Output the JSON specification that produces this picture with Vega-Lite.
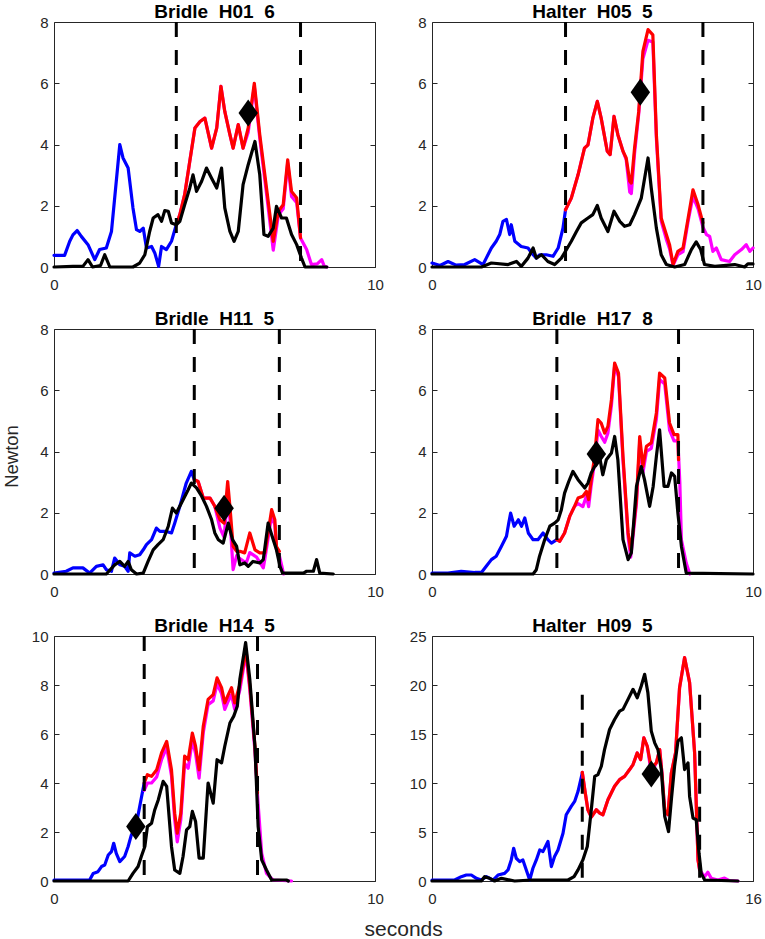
{
"$schema":"https://vega.github.io/schema/vega-lite/v6.json",
"padding":{"left":1,"top":2,"right":5,"bottom":4},
"bounds":"flush",
"columns":2,
"spacing":{"row":62,"column":57},
"title":{"text":"seconds","orient":"bottom","anchor":"middle","fontSize":21,"fontWeight":"normal","offset":12,"dx":22,"color":"#262626"},
"config":{
"font":"Liberation Sans",
"view":{"stroke":"#262626","strokeWidth":1},
"axis":{"grid":false,"domain":false,"tickColor":"#262626","tickSize":-5,"tickWidth":1,"labelFontSize":15,"labelColor":"#262626","labelFlush":false,"labelOverlap":false,"titleFontSize":18.5,"titleFontWeight":"normal","titleColor":"#262626"},
"axisBottom":{"labelPadding":15},
"axisLeft":{"labelPadding":11},
"title":{"fontSize":19,"fontWeight":"bold","anchor":"middle","offset":-7,"color":"#000000"},
"line":{"strokeWidth":3.2,"strokeJoin":"round","strokeCap":"round"}
},
"datasets":{
"ev":[{"p":1,"x":3.81,"y":8,"y2":0},{"p":1,"x":7.68,"y":8,"y2":0},{"p":2,"x":4.16,"y":8,"y2":0},{"p":2,"x":8.44,"y":8,"y2":0},{"p":3,"x":4.37,"y":8,"y2":0},{"p":3,"x":7.02,"y":8,"y2":0},{"p":4,"x":3.89,"y":8,"y2":0},{"p":4,"x":7.68,"y":8,"y2":0},{"p":5,"x":2.81,"y":10,"y2":0},{"p":5,"x":6.34,"y":10,"y2":0},{"p":6,"x":7.49,"y":19,"y2":0},{"p":6,"x":13.34,"y":19,"y2":0}],
"dm":[{"p":1,"x":6.05,"y":5.03},{"p":2,"x":6.49,"y":5.71},{"p":3,"x":5.3,"y":2.15},{"p":4,"x":5.12,"y":3.92},{"p":5,"x":2.55,"y":2.22},{"p":6,"x":10.93,"y":10.92}],
"d":[
{"p":1,"s":"b","x":0,"y":0.38},{"p":1,"s":"b","x":0.33,"y":0.38},{"p":1,"s":"b","x":0.49,"y":0.84},{"p":1,"s":"b","x":0.59,"y":1.05},{"p":1,"s":"b","x":0.72,"y":1.19},{"p":1,"s":"b","x":0.85,"y":1.0},{"p":1,"s":"b","x":1.06,"y":0.73},{"p":1,"s":"b","x":1.27,"y":0.24},{"p":1,"s":"b","x":1.42,"y":0.57},{"p":1,"s":"b","x":1.63,"y":0.62},{"p":1,"s":"b","x":1.79,"y":1.16},{"p":1,"s":"b","x":1.89,"y":2.25},{"p":1,"s":"b","x":2.05,"y":4.0},{"p":1,"s":"b","x":2.15,"y":3.56},{"p":1,"s":"b","x":2.31,"y":3.23},{"p":1,"s":"b","x":2.46,"y":1.93},{"p":1,"s":"b","x":2.57,"y":1.22},{"p":1,"s":"b","x":2.67,"y":1.16},{"p":1,"s":"b","x":2.78,"y":1.27},{"p":1,"s":"b","x":2.88,"y":0.62},{"p":1,"s":"b","x":3.04,"y":0.67},{"p":1,"s":"b","x":3.14,"y":0.46},{"p":1,"s":"b","x":3.26,"y":0.02},{"p":1,"s":"b","x":3.35,"y":0.67},{"p":1,"s":"b","x":3.5,"y":0.57},{"p":1,"s":"b","x":3.66,"y":0.84},{"p":1,"s":"b","x":3.81,"y":1.38},
{"p":1,"s":"r","x":3.81,"y":1.38},{"p":1,"s":"r","x":3.92,"y":1.71},{"p":1,"s":"r","x":4.07,"y":2.36},{"p":1,"s":"r","x":4.23,"y":3.45},{"p":1,"s":"r","x":4.39,"y":4.54},{"p":1,"s":"r","x":4.55,"y":4.75},{"p":1,"s":"r","x":4.7,"y":4.86},{"p":1,"s":"r","x":4.91,"y":3.88},{"p":1,"s":"r","x":5.07,"y":4.54},{"p":1,"s":"r","x":5.2,"y":5.9},{"p":1,"s":"r","x":5.32,"y":5.08},{"p":1,"s":"r","x":5.48,"y":4.32},{"p":1,"s":"r","x":5.58,"y":3.88},{"p":1,"s":"r","x":5.74,"y":4.65},{"p":1,"s":"r","x":5.89,"y":3.88},{"p":1,"s":"r","x":6.05,"y":4.54},{"p":1,"s":"r","x":6.24,"y":6.0},{"p":1,"s":"r","x":6.41,"y":4.32},{"p":1,"s":"r","x":6.62,"y":2.58},{"p":1,"s":"r","x":6.83,"y":0.84},{"p":1,"s":"r","x":6.99,"y":1.82},{"p":1,"s":"r","x":7.14,"y":2.03},{"p":1,"s":"r","x":7.28,"y":3.5},{"p":1,"s":"r","x":7.4,"y":2.47},{"p":1,"s":"r","x":7.56,"y":2.25},{"p":1,"s":"r","x":7.68,"y":0.95},
{"p":1,"s":"m","x":3.81,"y":1.38},{"p":1,"s":"m","x":3.92,"y":1.71},{"p":1,"s":"m","x":4.07,"y":2.36},{"p":1,"s":"m","x":4.23,"y":3.45},{"p":1,"s":"m","x":4.39,"y":4.54},{"p":1,"s":"m","x":4.55,"y":4.75},{"p":1,"s":"m","x":4.7,"y":4.86},{"p":1,"s":"m","x":4.91,"y":3.88},{"p":1,"s":"m","x":5.07,"y":4.54},{"p":1,"s":"m","x":5.2,"y":5.9},{"p":1,"s":"m","x":5.32,"y":5.08},{"p":1,"s":"m","x":5.48,"y":4.32},{"p":1,"s":"m","x":5.58,"y":3.88},{"p":1,"s":"m","x":5.74,"y":4.65},{"p":1,"s":"m","x":5.89,"y":3.88},{"p":1,"s":"m","x":6.05,"y":4.4},{"p":1,"s":"m","x":6.24,"y":5.9},{"p":1,"s":"m","x":6.41,"y":4.2},{"p":1,"s":"m","x":6.62,"y":2.4},{"p":1,"s":"m","x":6.83,"y":0.55},{"p":1,"s":"m","x":6.99,"y":1.7},{"p":1,"s":"m","x":7.14,"y":1.9},{"p":1,"s":"m","x":7.28,"y":3.4},{"p":1,"s":"m","x":7.4,"y":2.3},{"p":1,"s":"m","x":7.56,"y":2.1},{"p":1,"s":"m","x":7.68,"y":0.95},{"p":1,"s":"m","x":7.87,"y":0.57},{"p":1,"s":"m","x":8.02,"y":0.08},{"p":1,"s":"m","x":8.2,"y":0.1},{"p":1,"s":"m","x":8.34,"y":0.24},{"p":1,"s":"m","x":8.42,"y":0.02},{"p":1,"s":"m","x":8.5,"y":0},
{"p":1,"s":"k","x":0,"y":0},{"p":1,"s":"k","x":0.59,"y":0.02},{"p":1,"s":"k","x":0.9,"y":0.02},{"p":1,"s":"k","x":1.06,"y":0.24},{"p":1,"s":"k","x":1.2,"y":0},{"p":1,"s":"k","x":1.45,"y":0.05},{"p":1,"s":"k","x":1.58,"y":0.4},{"p":1,"s":"k","x":1.74,"y":0},{"p":1,"s":"k","x":2.46,"y":0},{"p":1,"s":"k","x":2.67,"y":0.13},{"p":1,"s":"k","x":2.83,"y":0.4},{"p":1,"s":"k","x":2.98,"y":1.16},{"p":1,"s":"k","x":3.09,"y":1.6},{"p":1,"s":"k","x":3.24,"y":1.71},{"p":1,"s":"k","x":3.35,"y":1.49},{"p":1,"s":"k","x":3.45,"y":1.84},{"p":1,"s":"k","x":3.56,"y":1.82},{"p":1,"s":"k","x":3.66,"y":1.44},{"p":1,"s":"k","x":3.81,"y":1.38},{"p":1,"s":"k","x":3.92,"y":1.49},{"p":1,"s":"k","x":4.07,"y":2.03},{"p":1,"s":"k","x":4.23,"y":2.58},{"p":1,"s":"k","x":4.33,"y":3.01},{"p":1,"s":"k","x":4.44,"y":2.47},{"p":1,"s":"k","x":4.6,"y":2.8},{"p":1,"s":"k","x":4.75,"y":3.23},{"p":1,"s":"k","x":4.91,"y":2.9},{"p":1,"s":"k","x":5.07,"y":2.58},{"p":1,"s":"k","x":5.22,"y":3.23},{"p":1,"s":"k","x":5.32,"y":1.93},{"p":1,"s":"k","x":5.48,"y":1.16},{"p":1,"s":"k","x":5.61,"y":0.84},{"p":1,"s":"k","x":5.74,"y":1.16},{"p":1,"s":"k","x":5.89,"y":2.69},{"p":1,"s":"k","x":6.05,"y":3.34},{"p":1,"s":"k","x":6.26,"y":4.1},{"p":1,"s":"k","x":6.41,"y":3.01},{"p":1,"s":"k","x":6.54,"y":1.06},{"p":1,"s":"k","x":6.67,"y":1.0},{"p":1,"s":"k","x":6.83,"y":1.27},{"p":1,"s":"k","x":6.93,"y":1.98},{"p":1,"s":"k","x":7.09,"y":1.6},{"p":1,"s":"k","x":7.24,"y":1.6},{"p":1,"s":"k","x":7.4,"y":1.06},{"p":1,"s":"k","x":7.56,"y":0.73},{"p":1,"s":"k","x":7.71,"y":0.29},{"p":1,"s":"k","x":7.82,"y":0},{"p":1,"s":"k","x":8.5,"y":0},
{"p":2,"s":"b","x":0,"y":0.13},{"p":2,"s":"b","x":0.25,"y":0.05},{"p":2,"s":"b","x":0.5,"y":0.18},{"p":2,"s":"b","x":0.75,"y":0.06},{"p":2,"s":"b","x":1.02,"y":0.08},{"p":2,"s":"b","x":1.33,"y":0.24},{"p":2,"s":"b","x":1.59,"y":0.08},{"p":2,"s":"b","x":1.69,"y":0.29},{"p":2,"s":"b","x":1.85,"y":0.62},{"p":2,"s":"b","x":2.0,"y":0.84},{"p":2,"s":"b","x":2.11,"y":1.06},{"p":2,"s":"b","x":2.21,"y":1.49},{"p":2,"s":"b","x":2.32,"y":1.55},{"p":2,"s":"b","x":2.42,"y":1.06},{"p":2,"s":"b","x":2.47,"y":1.38},{"p":2,"s":"b","x":2.58,"y":0.84},{"p":2,"s":"b","x":2.78,"y":0.67},{"p":2,"s":"b","x":2.99,"y":0.62},{"p":2,"s":"b","x":3.15,"y":0.4},{"p":2,"s":"b","x":3.25,"y":0.29},{"p":2,"s":"b","x":3.35,"y":0.4},{"p":2,"s":"b","x":3.56,"y":0.4},{"p":2,"s":"b","x":3.77,"y":0.35},{"p":2,"s":"b","x":3.93,"y":0.62},{"p":2,"s":"b","x":4.08,"y":1.27},{"p":2,"s":"b","x":4.16,"y":1.87},
{"p":2,"s":"r","x":4.16,"y":1.87},{"p":2,"s":"r","x":4.34,"y":2.25},{"p":2,"s":"r","x":4.55,"y":3.01},{"p":2,"s":"r","x":4.75,"y":3.88},{"p":2,"s":"r","x":4.86,"y":3.99},{"p":2,"s":"r","x":5.01,"y":4.86},{"p":2,"s":"r","x":5.15,"y":5.41},{"p":2,"s":"r","x":5.27,"y":4.86},{"p":2,"s":"r","x":5.46,"y":3.78},{"p":2,"s":"r","x":5.55,"y":3.67},{"p":2,"s":"r","x":5.67,"y":4.92},{"p":2,"s":"r","x":5.79,"y":4.32},{"p":2,"s":"r","x":5.95,"y":3.78},{"p":2,"s":"r","x":6.05,"y":3.56},{"p":2,"s":"r","x":6.16,"y":2.8},{"p":2,"s":"r","x":6.21,"y":2.74},{"p":2,"s":"r","x":6.31,"y":3.88},{"p":2,"s":"r","x":6.44,"y":5.08},{"p":2,"s":"r","x":6.57,"y":7.04},{"p":2,"s":"r","x":6.73,"y":7.75},{"p":2,"s":"r","x":6.88,"y":7.58},{"p":2,"s":"r","x":6.99,"y":4.32},{"p":2,"s":"r","x":7.14,"y":1.6},{"p":2,"s":"r","x":7.3,"y":1.06},{"p":2,"s":"r","x":7.4,"y":0.73},{"p":2,"s":"r","x":7.51,"y":0.08},{"p":2,"s":"r","x":7.66,"y":0.51},{"p":2,"s":"r","x":7.82,"y":0.62},{"p":2,"s":"r","x":7.98,"y":1.6},{"p":2,"s":"r","x":8.13,"y":2.52},{"p":2,"s":"r","x":8.29,"y":2.03},{"p":2,"s":"r","x":8.44,"y":1.44},
{"p":2,"s":"m","x":4.16,"y":1.87},{"p":2,"s":"m","x":4.34,"y":2.25},{"p":2,"s":"m","x":4.55,"y":3.01},{"p":2,"s":"m","x":4.75,"y":3.88},{"p":2,"s":"m","x":4.86,"y":3.99},{"p":2,"s":"m","x":5.01,"y":4.86},{"p":2,"s":"m","x":5.15,"y":5.41},{"p":2,"s":"m","x":5.27,"y":4.86},{"p":2,"s":"m","x":5.46,"y":3.78},{"p":2,"s":"m","x":5.55,"y":3.67},{"p":2,"s":"m","x":5.67,"y":4.92},{"p":2,"s":"m","x":5.79,"y":4.32},{"p":2,"s":"m","x":5.95,"y":3.78},{"p":2,"s":"m","x":6.05,"y":3.5},{"p":2,"s":"m","x":6.16,"y":2.45},{"p":2,"s":"m","x":6.21,"y":2.4},{"p":2,"s":"m","x":6.31,"y":3.7},{"p":2,"s":"m","x":6.44,"y":5.0},{"p":2,"s":"m","x":6.57,"y":6.8},{"p":2,"s":"m","x":6.73,"y":7.4},{"p":2,"s":"m","x":6.88,"y":7.35},{"p":2,"s":"m","x":6.99,"y":4.2},{"p":2,"s":"m","x":7.14,"y":1.5},{"p":2,"s":"m","x":7.3,"y":0.9},{"p":2,"s":"m","x":7.4,"y":0.6},{"p":2,"s":"m","x":7.51,"y":0.05},{"p":2,"s":"m","x":7.66,"y":0.4},{"p":2,"s":"m","x":7.82,"y":0.5},{"p":2,"s":"m","x":7.98,"y":1.5},{"p":2,"s":"m","x":8.13,"y":2.3},{"p":2,"s":"m","x":8.29,"y":1.9},{"p":2,"s":"m","x":8.44,"y":1.3},{"p":2,"s":"m","x":8.55,"y":1.06},{"p":2,"s":"m","x":8.65,"y":1.0},{"p":2,"s":"m","x":8.75,"y":0.51},{"p":2,"s":"m","x":8.86,"y":0.62},{"p":2,"s":"m","x":9.01,"y":0.24},{"p":2,"s":"m","x":9.27,"y":0.18},{"p":2,"s":"m","x":9.43,"y":0.4},{"p":2,"s":"m","x":9.64,"y":0.57},{"p":2,"s":"m","x":9.79,"y":0.73},{"p":2,"s":"m","x":9.9,"y":0.51},{"p":2,"s":"m","x":10,"y":0.62},
{"p":2,"s":"k","x":0,"y":0},{"p":2,"s":"k","x":1.54,"y":0},{"p":2,"s":"k","x":1.85,"y":0.13},{"p":2,"s":"k","x":2.37,"y":0.08},{"p":2,"s":"k","x":2.63,"y":0.18},{"p":2,"s":"k","x":2.78,"y":0.02},{"p":2,"s":"k","x":2.99,"y":0.29},{"p":2,"s":"k","x":3.15,"y":0.62},{"p":2,"s":"k","x":3.25,"y":0.29},{"p":2,"s":"k","x":3.41,"y":0.4},{"p":2,"s":"k","x":3.61,"y":0.18},{"p":2,"s":"k","x":3.82,"y":0.08},{"p":2,"s":"k","x":4.03,"y":0.29},{"p":2,"s":"k","x":4.19,"y":0.57},{"p":2,"s":"k","x":4.34,"y":0.84},{"p":2,"s":"k","x":4.5,"y":1.16},{"p":2,"s":"k","x":4.65,"y":1.44},{"p":2,"s":"k","x":4.86,"y":1.6},{"p":2,"s":"k","x":5.01,"y":1.71},{"p":2,"s":"k","x":5.15,"y":2.01},{"p":2,"s":"k","x":5.27,"y":1.6},{"p":2,"s":"k","x":5.48,"y":1.16},{"p":2,"s":"k","x":5.67,"y":1.82},{"p":2,"s":"k","x":5.85,"y":1.49},{"p":2,"s":"k","x":6.0,"y":1.33},{"p":2,"s":"k","x":6.16,"y":1.38},{"p":2,"s":"k","x":6.31,"y":1.71},{"p":2,"s":"k","x":6.52,"y":2.25},{"p":2,"s":"k","x":6.73,"y":3.56},{"p":2,"s":"k","x":6.83,"y":2.58},{"p":2,"s":"k","x":6.99,"y":1.27},{"p":2,"s":"k","x":7.14,"y":0.4},{"p":2,"s":"k","x":7.3,"y":0.08},{"p":2,"s":"k","x":7.56,"y":0},{"p":2,"s":"k","x":7.87,"y":0.08},{"p":2,"s":"k","x":8.08,"y":0.57},{"p":2,"s":"k","x":8.23,"y":0.82},{"p":2,"s":"k","x":8.37,"y":0.57},{"p":2,"s":"k","x":8.49,"y":0.08},{"p":2,"s":"k","x":8.81,"y":0.02},{"p":2,"s":"k","x":9.43,"y":0.08},{"p":2,"s":"k","x":9.74,"y":0},{"p":2,"s":"k","x":9.84,"y":0.1},{"p":2,"s":"k","x":10,"y":0.1},
{"p":3,"s":"b","x":0,"y":0.03},{"p":3,"s":"b","x":0.38,"y":0.09},{"p":3,"s":"b","x":0.59,"y":0.2},{"p":3,"s":"b","x":0.9,"y":0.2},{"p":3,"s":"b","x":1.11,"y":0.03},{"p":3,"s":"b","x":1.32,"y":0.25},{"p":3,"s":"b","x":1.53,"y":0.3},{"p":3,"s":"b","x":1.63,"y":0.14},{"p":3,"s":"b","x":1.79,"y":0.09},{"p":3,"s":"b","x":1.89,"y":0.52},{"p":3,"s":"b","x":2.05,"y":0.3},{"p":3,"s":"b","x":2.2,"y":0.25},{"p":3,"s":"b","x":2.31,"y":0.09},{"p":3,"s":"b","x":2.36,"y":0.69},{"p":3,"s":"b","x":2.52,"y":0.58},{"p":3,"s":"b","x":2.67,"y":0.63},{"p":3,"s":"b","x":2.78,"y":0.79},{"p":3,"s":"b","x":2.88,"y":0.96},{"p":3,"s":"b","x":3.04,"y":1.12},{"p":3,"s":"b","x":3.19,"y":1.5},{"p":3,"s":"b","x":3.3,"y":1.39},{"p":3,"s":"b","x":3.5,"y":1.39},{"p":3,"s":"b","x":3.66,"y":1.34},{"p":3,"s":"b","x":3.76,"y":1.66},{"p":3,"s":"b","x":3.92,"y":2.21},{"p":3,"s":"b","x":4.12,"y":2.97},{"p":3,"s":"b","x":4.28,"y":3.35},{"p":3,"s":"b","x":4.37,"y":3.08},
{"p":3,"s":"r","x":4.37,"y":3.08},{"p":3,"s":"r","x":4.49,"y":3.02},{"p":3,"s":"r","x":4.65,"y":2.48},{"p":3,"s":"r","x":4.86,"y":2.48},{"p":3,"s":"r","x":5.01,"y":2.21},{"p":3,"s":"r","x":5.17,"y":1.77},{"p":3,"s":"r","x":5.3,"y":1.66},{"p":3,"s":"r","x":5.41,"y":3.02},{"p":3,"s":"r","x":5.48,"y":2.21},{"p":3,"s":"r","x":5.58,"y":0.9},{"p":3,"s":"r","x":5.69,"y":0.74},{"p":3,"s":"r","x":5.79,"y":0.74},{"p":3,"s":"r","x":5.94,"y":0.69},{"p":3,"s":"r","x":6.1,"y":1.34},{"p":3,"s":"r","x":6.26,"y":0.79},{"p":3,"s":"r","x":6.41,"y":0.69},{"p":3,"s":"r","x":6.57,"y":0.69},{"p":3,"s":"r","x":6.78,"y":2.1},{"p":3,"s":"r","x":6.88,"y":1.77},{"p":3,"s":"r","x":6.93,"y":0.9},{"p":3,"s":"r","x":7.02,"y":0.74},
{"p":3,"s":"m","x":4.37,"y":3.08},{"p":3,"s":"m","x":4.49,"y":3.02},{"p":3,"s":"m","x":4.65,"y":2.48},{"p":3,"s":"m","x":4.86,"y":2.48},{"p":3,"s":"m","x":5.01,"y":2.21},{"p":3,"s":"m","x":5.17,"y":1.5},{"p":3,"s":"m","x":5.3,"y":1.2},{"p":3,"s":"m","x":5.41,"y":2.6},{"p":3,"s":"m","x":5.48,"y":1.8},{"p":3,"s":"m","x":5.58,"y":0.14},{"p":3,"s":"m","x":5.69,"y":0.6},{"p":3,"s":"m","x":5.79,"y":0.5},{"p":3,"s":"m","x":5.99,"y":0.36},{"p":3,"s":"m","x":6.1,"y":0.7},{"p":3,"s":"m","x":6.31,"y":0.55},{"p":3,"s":"m","x":6.52,"y":0.2},{"p":3,"s":"m","x":6.57,"y":0.5},{"p":3,"s":"m","x":6.78,"y":1.9},{"p":3,"s":"m","x":6.88,"y":1.6},{"p":3,"s":"m","x":6.93,"y":0.8},{"p":3,"s":"m","x":7.02,"y":0.6},{"p":3,"s":"m","x":7.1,"y":0.25},{"p":3,"s":"m","x":7.15,"y":0},
{"p":3,"s":"k","x":0,"y":0},{"p":3,"s":"k","x":1.63,"y":0},{"p":3,"s":"k","x":1.89,"y":0.3},{"p":3,"s":"k","x":2.05,"y":0.41},{"p":3,"s":"k","x":2.2,"y":0.25},{"p":3,"s":"k","x":2.31,"y":0.41},{"p":3,"s":"k","x":2.41,"y":0.14},{"p":3,"s":"k","x":2.57,"y":0},{"p":3,"s":"k","x":2.78,"y":0.03},{"p":3,"s":"k","x":2.93,"y":0.41},{"p":3,"s":"k","x":3.09,"y":0.79},{"p":3,"s":"k","x":3.24,"y":0.96},{"p":3,"s":"k","x":3.4,"y":1.12},{"p":3,"s":"k","x":3.56,"y":1.56},{"p":3,"s":"k","x":3.69,"y":2.15},{"p":3,"s":"k","x":3.81,"y":1.99},{"p":3,"s":"k","x":3.97,"y":2.32},{"p":3,"s":"k","x":4.18,"y":2.75},{"p":3,"s":"k","x":4.28,"y":2.97},{"p":3,"s":"k","x":4.44,"y":2.81},{"p":3,"s":"k","x":4.6,"y":2.54},{"p":3,"s":"k","x":4.75,"y":2.21},{"p":3,"s":"k","x":4.91,"y":1.77},{"p":3,"s":"k","x":5.01,"y":1.34},{"p":3,"s":"k","x":5.12,"y":1.12},{"p":3,"s":"k","x":5.27,"y":1.01},{"p":3,"s":"k","x":5.43,"y":1.66},{"p":3,"s":"k","x":5.56,"y":1.12},{"p":3,"s":"k","x":5.69,"y":0.9},{"p":3,"s":"k","x":5.79,"y":0.3},{"p":3,"s":"k","x":5.94,"y":0.36},{"p":3,"s":"k","x":6.05,"y":0.25},{"p":3,"s":"k","x":6.2,"y":0.41},{"p":3,"s":"k","x":6.41,"y":0.36},{"p":3,"s":"k","x":6.52,"y":0.47},{"p":3,"s":"k","x":6.67,"y":1.66},{"p":3,"s":"k","x":6.83,"y":1.12},{"p":3,"s":"k","x":6.93,"y":0.79},{"p":3,"s":"k","x":7.04,"y":0.25},{"p":3,"s":"k","x":7.12,"y":0.03},{"p":3,"s":"k","x":7.77,"y":0.03},{"p":3,"s":"k","x":7.87,"y":0.09},{"p":3,"s":"k","x":8.08,"y":0.09},{"p":3,"s":"k","x":8.18,"y":0.47},{"p":3,"s":"k","x":8.28,"y":0.03},{"p":3,"s":"k","x":8.7,"y":0},
{"p":4,"s":"b","x":0,"y":0.03},{"p":4,"s":"b","x":0.5,"y":0.03},{"p":4,"s":"b","x":0.91,"y":0.09},{"p":4,"s":"b","x":1.33,"y":0.05},{"p":4,"s":"b","x":1.54,"y":0.05},{"p":4,"s":"b","x":1.69,"y":0.25},{"p":4,"s":"b","x":1.85,"y":0.47},{"p":4,"s":"b","x":2.0,"y":0.58},{"p":4,"s":"b","x":2.16,"y":0.9},{"p":4,"s":"b","x":2.32,"y":1.23},{"p":4,"s":"b","x":2.39,"y":1.66},{"p":4,"s":"b","x":2.45,"y":1.99},{"p":4,"s":"b","x":2.56,"y":1.56},{"p":4,"s":"b","x":2.69,"y":1.77},{"p":4,"s":"b","x":2.79,"y":1.56},{"p":4,"s":"b","x":2.89,"y":1.83},{"p":4,"s":"b","x":3.0,"y":1.34},{"p":4,"s":"b","x":3.15,"y":1.12},{"p":4,"s":"b","x":3.3,"y":1.12},{"p":4,"s":"b","x":3.46,"y":1.34},{"p":4,"s":"b","x":3.61,"y":1.12},{"p":4,"s":"b","x":3.72,"y":1.01},{"p":4,"s":"b","x":3.89,"y":1.12},
{"p":4,"s":"r","x":3.89,"y":1.12},{"p":4,"s":"r","x":3.98,"y":1.07},{"p":4,"s":"r","x":4.13,"y":1.34},{"p":4,"s":"r","x":4.29,"y":1.88},{"p":4,"s":"r","x":4.44,"y":2.21},{"p":4,"s":"r","x":4.55,"y":2.48},{"p":4,"s":"r","x":4.7,"y":2.54},{"p":4,"s":"r","x":4.81,"y":2.7},{"p":4,"s":"r","x":4.88,"y":2.43},{"p":4,"s":"r","x":4.96,"y":3.08},{"p":4,"s":"r","x":5.06,"y":3.79},{"p":4,"s":"r","x":5.17,"y":5.04},{"p":4,"s":"r","x":5.27,"y":4.93},{"p":4,"s":"r","x":5.38,"y":4.6},{"p":4,"s":"r","x":5.48,"y":4.82},{"p":4,"s":"r","x":5.59,"y":5.69},{"p":4,"s":"r","x":5.69,"y":6.89},{"p":4,"s":"r","x":5.81,"y":6.56},{"p":4,"s":"r","x":5.95,"y":3.84},{"p":4,"s":"r","x":6.11,"y":1.34},{"p":4,"s":"r","x":6.19,"y":0.79},{"p":4,"s":"r","x":6.26,"y":1.34},{"p":4,"s":"r","x":6.37,"y":2.43},{"p":4,"s":"r","x":6.47,"y":4.49},{"p":4,"s":"r","x":6.57,"y":3.51},{"p":4,"s":"r","x":6.68,"y":4.17},{"p":4,"s":"r","x":6.83,"y":4.28},{"p":4,"s":"r","x":6.99,"y":5.26},{"p":4,"s":"r","x":7.09,"y":6.56},{"p":4,"s":"r","x":7.25,"y":6.4},{"p":4,"s":"r","x":7.4,"y":4.93},{"p":4,"s":"r","x":7.54,"y":4.55},{"p":4,"s":"r","x":7.66,"y":4.55},{"p":4,"s":"r","x":7.68,"y":3.73},
{"p":4,"s":"m","x":3.89,"y":1.12},{"p":4,"s":"m","x":3.98,"y":1.07},{"p":4,"s":"m","x":4.13,"y":1.34},{"p":4,"s":"m","x":4.29,"y":1.88},{"p":4,"s":"m","x":4.44,"y":2.21},{"p":4,"s":"m","x":4.55,"y":2.3},{"p":4,"s":"m","x":4.7,"y":2.2},{"p":4,"s":"m","x":4.81,"y":2.55},{"p":4,"s":"m","x":4.88,"y":2.2},{"p":4,"s":"m","x":4.96,"y":2.9},{"p":4,"s":"m","x":5.06,"y":3.6},{"p":4,"s":"m","x":5.17,"y":4.7},{"p":4,"s":"m","x":5.27,"y":4.5},{"p":4,"s":"m","x":5.38,"y":4.3},{"p":4,"s":"m","x":5.48,"y":4.6},{"p":4,"s":"m","x":5.59,"y":5.5},{"p":4,"s":"m","x":5.69,"y":6.8},{"p":4,"s":"m","x":5.81,"y":6.45},{"p":4,"s":"m","x":5.95,"y":3.7},{"p":4,"s":"m","x":6.11,"y":1.2},{"p":4,"s":"m","x":6.19,"y":0.55},{"p":4,"s":"m","x":6.26,"y":1.2},{"p":4,"s":"m","x":6.37,"y":2.3},{"p":4,"s":"m","x":6.47,"y":4.3},{"p":4,"s":"m","x":6.57,"y":3.3},{"p":4,"s":"m","x":6.68,"y":4.0},{"p":4,"s":"m","x":6.83,"y":4.1},{"p":4,"s":"m","x":6.99,"y":5.05},{"p":4,"s":"m","x":7.09,"y":6.35},{"p":4,"s":"m","x":7.25,"y":6.2},{"p":4,"s":"m","x":7.4,"y":4.7},{"p":4,"s":"m","x":7.54,"y":4.35},{"p":4,"s":"m","x":7.66,"y":4.35},{"p":4,"s":"m","x":7.72,"y":3.0},{"p":4,"s":"m","x":7.77,"y":1.12},{"p":4,"s":"m","x":7.92,"y":0.36},{"p":4,"s":"m","x":8.03,"y":0},
{"p":4,"s":"k","x":0,"y":0},{"p":4,"s":"k","x":3.15,"y":0},{"p":4,"s":"k","x":3.25,"y":0.14},{"p":4,"s":"k","x":3.35,"y":0.58},{"p":4,"s":"k","x":3.51,"y":1.12},{"p":4,"s":"k","x":3.67,"y":1.56},{"p":4,"s":"k","x":3.82,"y":1.66},{"p":4,"s":"k","x":3.93,"y":1.77},{"p":4,"s":"k","x":4.03,"y":2.1},{"p":4,"s":"k","x":4.13,"y":2.64},{"p":4,"s":"k","x":4.26,"y":3.02},{"p":4,"s":"k","x":4.39,"y":3.35},{"p":4,"s":"k","x":4.55,"y":3.08},{"p":4,"s":"k","x":4.76,"y":2.81},{"p":4,"s":"k","x":4.86,"y":2.97},{"p":4,"s":"k","x":4.96,"y":3.3},{"p":4,"s":"k","x":5.12,"y":3.62},{"p":4,"s":"k","x":5.22,"y":3.84},{"p":4,"s":"k","x":5.32,"y":3.24},{"p":4,"s":"k","x":5.43,"y":3.73},{"p":4,"s":"k","x":5.59,"y":3.95},{"p":4,"s":"k","x":5.69,"y":4.49},{"p":4,"s":"k","x":5.79,"y":3.73},{"p":4,"s":"k","x":5.95,"y":1.12},{"p":4,"s":"k","x":6.11,"y":0.47},{"p":4,"s":"k","x":6.21,"y":0.69},{"p":4,"s":"k","x":6.37,"y":2.86},{"p":4,"s":"k","x":6.52,"y":3.51},{"p":4,"s":"k","x":6.62,"y":3.08},{"p":4,"s":"k","x":6.78,"y":2.21},{"p":4,"s":"k","x":6.89,"y":2.86},{"p":4,"s":"k","x":6.99,"y":3.84},{"p":4,"s":"k","x":7.09,"y":4.71},{"p":4,"s":"k","x":7.23,"y":2.86},{"p":4,"s":"k","x":7.35,"y":2.86},{"p":4,"s":"k","x":7.46,"y":3.3},{"p":4,"s":"k","x":7.56,"y":3.19},{"p":4,"s":"k","x":7.66,"y":1.99},{"p":4,"s":"k","x":7.77,"y":0.9},{"p":4,"s":"k","x":7.92,"y":0.03},{"p":4,"s":"k","x":10,"y":0},
{"p":5,"s":"b","x":0,"y":0.04},{"p":5,"s":"b","x":0.59,"y":0.04},{"p":5,"s":"b","x":1.11,"y":0.04},{"p":5,"s":"b","x":1.22,"y":0.31},{"p":5,"s":"b","x":1.37,"y":0.38},{"p":5,"s":"b","x":1.48,"y":0.59},{"p":5,"s":"b","x":1.58,"y":0.65},{"p":5,"s":"b","x":1.69,"y":1.06},{"p":5,"s":"b","x":1.79,"y":1.2},{"p":5,"s":"b","x":1.86,"y":1.54},{"p":5,"s":"b","x":1.94,"y":1.13},{"p":5,"s":"b","x":2.05,"y":0.79},{"p":5,"s":"b","x":2.2,"y":1.0},{"p":5,"s":"b","x":2.31,"y":1.41},{"p":5,"s":"b","x":2.41,"y":1.88},{"p":5,"s":"b","x":2.55,"y":2.22},{"p":5,"s":"b","x":2.67,"y":3.04},{"p":5,"s":"b","x":2.81,"y":4.0},
{"p":5,"s":"r","x":2.81,"y":4.0},{"p":5,"s":"r","x":2.91,"y":4.34},{"p":5,"s":"r","x":3.04,"y":4.27},{"p":5,"s":"r","x":3.2,"y":4.54},{"p":5,"s":"r","x":3.35,"y":5.23},{"p":5,"s":"r","x":3.51,"y":5.7},{"p":5,"s":"r","x":3.66,"y":4.54},{"p":5,"s":"r","x":3.76,"y":2.77},{"p":5,"s":"r","x":3.84,"y":1.95},{"p":5,"s":"r","x":3.95,"y":2.77},{"p":5,"s":"r","x":4.07,"y":5.1},{"p":5,"s":"r","x":4.18,"y":4.95},{"p":5,"s":"r","x":4.31,"y":6.04},{"p":5,"s":"r","x":4.41,"y":5.5},{"p":5,"s":"r","x":4.52,"y":4.54},{"p":5,"s":"r","x":4.65,"y":6.32},{"p":5,"s":"r","x":4.8,"y":7.41},{"p":5,"s":"r","x":4.96,"y":7.61},{"p":5,"s":"r","x":5.08,"y":8.29},{"p":5,"s":"r","x":5.22,"y":7.89},{"p":5,"s":"r","x":5.32,"y":7.27},{"p":5,"s":"r","x":5.43,"y":7.61},{"p":5,"s":"r","x":5.53,"y":7.89},{"p":5,"s":"r","x":5.63,"y":7.27},{"p":5,"s":"r","x":5.79,"y":8.02},{"p":5,"s":"r","x":5.98,"y":9.45},{"p":5,"s":"r","x":6.1,"y":7.95},{"p":5,"s":"r","x":6.26,"y":5.5},{"p":5,"s":"r","x":6.34,"y":3.59},
{"p":5,"s":"m","x":2.81,"y":3.7},{"p":5,"s":"m","x":2.91,"y":4.0},{"p":5,"s":"m","x":3.04,"y":4.0},{"p":5,"s":"m","x":3.2,"y":4.25},{"p":5,"s":"m","x":3.35,"y":4.95},{"p":5,"s":"m","x":3.51,"y":5.45},{"p":5,"s":"m","x":3.66,"y":4.3},{"p":5,"s":"m","x":3.76,"y":2.5},{"p":5,"s":"m","x":3.84,"y":1.6},{"p":5,"s":"m","x":3.95,"y":2.5},{"p":5,"s":"m","x":4.07,"y":4.8},{"p":5,"s":"m","x":4.18,"y":4.6},{"p":5,"s":"m","x":4.31,"y":5.75},{"p":5,"s":"m","x":4.41,"y":5.2},{"p":5,"s":"m","x":4.52,"y":4.2},{"p":5,"s":"m","x":4.65,"y":6.05},{"p":5,"s":"m","x":4.8,"y":7.2},{"p":5,"s":"m","x":4.96,"y":7.35},{"p":5,"s":"m","x":5.08,"y":8.05},{"p":5,"s":"m","x":5.22,"y":7.65},{"p":5,"s":"m","x":5.32,"y":7.0},{"p":5,"s":"m","x":5.43,"y":7.35},{"p":5,"s":"m","x":5.53,"y":7.6},{"p":5,"s":"m","x":5.63,"y":7.0},{"p":5,"s":"m","x":5.79,"y":7.8},{"p":5,"s":"m","x":5.98,"y":9.3},{"p":5,"s":"m","x":6.1,"y":7.8},{"p":5,"s":"m","x":6.26,"y":5.3},{"p":5,"s":"m","x":6.34,"y":3.5},{"p":5,"s":"m","x":6.47,"y":1.13},{"p":5,"s":"m","x":6.62,"y":0.31},{"p":5,"s":"m","x":6.83,"y":0.04},{"p":5,"s":"m","x":7.4,"y":0},
{"p":5,"s":"k","x":0,"y":0},{"p":5,"s":"k","x":2.31,"y":0},{"p":5,"s":"k","x":2.46,"y":0.31},{"p":5,"s":"k","x":2.62,"y":0.59},{"p":5,"s":"k","x":2.72,"y":1.0},{"p":5,"s":"k","x":2.83,"y":1.41},{"p":5,"s":"k","x":2.91,"y":2.22},{"p":5,"s":"k","x":3.04,"y":2.36},{"p":5,"s":"k","x":3.14,"y":2.91},{"p":5,"s":"k","x":3.25,"y":3.32},{"p":5,"s":"k","x":3.4,"y":4.07},{"p":5,"s":"k","x":3.51,"y":3.86},{"p":5,"s":"k","x":3.66,"y":1.41},{"p":5,"s":"k","x":3.76,"y":0.45},{"p":5,"s":"k","x":3.92,"y":0.31},{"p":5,"s":"k","x":4.02,"y":1.0},{"p":5,"s":"k","x":4.13,"y":2.09},{"p":5,"s":"k","x":4.23,"y":2.22},{"p":5,"s":"k","x":4.31,"y":2.84},{"p":5,"s":"k","x":4.41,"y":2.43},{"p":5,"s":"k","x":4.52,"y":0.93},{"p":5,"s":"k","x":4.65,"y":0.93},{"p":5,"s":"k","x":4.8,"y":4.0},{"p":5,"s":"k","x":4.96,"y":3.18},{"p":5,"s":"k","x":5.08,"y":4.95},{"p":5,"s":"k","x":5.22,"y":4.82},{"p":5,"s":"k","x":5.32,"y":5.5},{"p":5,"s":"k","x":5.48,"y":6.45},{"p":5,"s":"k","x":5.6,"y":6.73},{"p":5,"s":"k","x":5.71,"y":7.13},{"p":5,"s":"k","x":5.79,"y":8.23},{"p":5,"s":"k","x":5.97,"y":9.73},{"p":5,"s":"k","x":6.1,"y":8.23},{"p":5,"s":"k","x":6.26,"y":5.5},{"p":5,"s":"k","x":6.36,"y":2.22},{"p":5,"s":"k","x":6.47,"y":0.86},{"p":5,"s":"k","x":6.62,"y":0.45},{"p":5,"s":"k","x":6.78,"y":0.04},{"p":5,"s":"k","x":7.24,"y":0.04},{"p":5,"s":"k","x":7.3,"y":0},
{"p":6,"s":"b","x":0,"y":0.1},{"p":6,"s":"b","x":1.13,"y":0.1},{"p":6,"s":"b","x":1.46,"y":0.44},{"p":6,"s":"b","x":1.71,"y":0.61},{"p":6,"s":"b","x":1.96,"y":0.61},{"p":6,"s":"b","x":2.21,"y":0.27},{"p":6,"s":"b","x":2.46,"y":0.1},{"p":6,"s":"b","x":2.71,"y":0.44},{"p":6,"s":"b","x":3.04,"y":0.1},{"p":6,"s":"b","x":3.29,"y":0.61},{"p":6,"s":"b","x":3.62,"y":0.78},{"p":6,"s":"b","x":3.79,"y":1.13},{"p":6,"s":"b","x":3.95,"y":2.15},{"p":6,"s":"b","x":4.07,"y":3.34},{"p":6,"s":"b","x":4.2,"y":2.32},{"p":6,"s":"b","x":4.37,"y":1.98},{"p":6,"s":"b","x":4.53,"y":2.15},{"p":6,"s":"b","x":4.7,"y":1.13},{"p":6,"s":"b","x":4.87,"y":0.1},{"p":6,"s":"b","x":5.03,"y":1.3},{"p":6,"s":"b","x":5.2,"y":2.15},{"p":6,"s":"b","x":5.37,"y":3.17},{"p":6,"s":"b","x":5.53,"y":3.0},{"p":6,"s":"b","x":5.7,"y":3.69},{"p":6,"s":"b","x":5.78,"y":4.03},{"p":6,"s":"b","x":5.95,"y":1.47},{"p":6,"s":"b","x":6.11,"y":2.49},{"p":6,"s":"b","x":6.28,"y":3.17},{"p":6,"s":"b","x":6.53,"y":4.88},{"p":6,"s":"b","x":6.69,"y":6.76},{"p":6,"s":"b","x":6.94,"y":7.61},{"p":6,"s":"b","x":7.11,"y":8.12},{"p":6,"s":"b","x":7.28,"y":9.15},{"p":6,"s":"b","x":7.49,"y":11.02},
{"p":6,"s":"r","x":7.49,"y":11.09},{"p":6,"s":"r","x":7.64,"y":8.98},{"p":6,"s":"r","x":7.77,"y":7.27},{"p":6,"s":"r","x":7.94,"y":6.52},{"p":6,"s":"r","x":8.19,"y":7.27},{"p":6,"s":"r","x":8.36,"y":6.93},{"p":6,"s":"r","x":8.52,"y":6.76},{"p":6,"s":"r","x":8.77,"y":8.29},{"p":6,"s":"r","x":9.1,"y":9.66},{"p":6,"s":"r","x":9.35,"y":10.34},{"p":6,"s":"r","x":9.6,"y":10.68},{"p":6,"s":"r","x":9.85,"y":11.37},{"p":6,"s":"r","x":10.02,"y":11.88},{"p":6,"s":"r","x":10.23,"y":13.07},{"p":6,"s":"r","x":10.4,"y":12.39},{"p":6,"s":"r","x":10.56,"y":14.61},{"p":6,"s":"r","x":10.73,"y":13.75},{"p":6,"s":"r","x":10.93,"y":11.54},{"p":6,"s":"r","x":11.18,"y":12.05},{"p":6,"s":"r","x":11.35,"y":13.41},{"p":6,"s":"r","x":11.46,"y":11.02},{"p":6,"s":"r","x":11.6,"y":7.27},{"p":6,"s":"r","x":11.76,"y":6.76},{"p":6,"s":"r","x":11.93,"y":11.02},{"p":6,"s":"r","x":12.14,"y":13.07},{"p":6,"s":"r","x":12.34,"y":19.73},{"p":6,"s":"r","x":12.59,"y":22.8},{"p":6,"s":"r","x":12.84,"y":20.24},{"p":6,"s":"r","x":13.09,"y":13.07},{"p":6,"s":"r","x":13.26,"y":2.15},{"p":6,"s":"r","x":13.34,"y":1.13},
{"p":6,"s":"m","x":7.49,"y":11.09},{"p":6,"s":"m","x":7.64,"y":8.98},{"p":6,"s":"m","x":7.77,"y":7.27},{"p":6,"s":"m","x":7.94,"y":6.52},{"p":6,"s":"m","x":8.19,"y":7.27},{"p":6,"s":"m","x":8.36,"y":6.93},{"p":6,"s":"m","x":8.52,"y":6.76},{"p":6,"s":"m","x":8.77,"y":8.29},{"p":6,"s":"m","x":9.1,"y":9.66},{"p":6,"s":"m","x":9.35,"y":10.34},{"p":6,"s":"m","x":9.6,"y":10.68},{"p":6,"s":"m","x":9.85,"y":11.37},{"p":6,"s":"m","x":10.02,"y":11.88},{"p":6,"s":"m","x":10.23,"y":13.07},{"p":6,"s":"m","x":10.4,"y":12.39},{"p":6,"s":"m","x":10.56,"y":14.61},{"p":6,"s":"m","x":10.73,"y":13.75},{"p":6,"s":"m","x":10.93,"y":11.0},{"p":6,"s":"m","x":11.18,"y":12.05},{"p":6,"s":"m","x":11.35,"y":13.41},{"p":6,"s":"m","x":11.46,"y":11.02},{"p":6,"s":"m","x":11.6,"y":7.0},{"p":6,"s":"m","x":11.76,"y":6.76},{"p":6,"s":"m","x":11.93,"y":11.02},{"p":6,"s":"m","x":12.14,"y":13.07},{"p":6,"s":"m","x":12.34,"y":19.73},{"p":6,"s":"m","x":12.59,"y":22.8},{"p":6,"s":"m","x":12.84,"y":20.24},{"p":6,"s":"m","x":13.09,"y":13.07},{"p":6,"s":"m","x":13.26,"y":2.15},{"p":6,"s":"m","x":13.34,"y":1.13},{"p":6,"s":"m","x":13.59,"y":0.44},{"p":6,"s":"m","x":13.75,"y":0.9},{"p":6,"s":"m","x":13.92,"y":0.27},{"p":6,"s":"m","x":14.25,"y":0.1},{"p":6,"s":"m","x":14.58,"y":0.3},{"p":6,"s":"m","x":14.8,"y":0.05},{"p":6,"s":"m","x":15.25,"y":0},
{"p":6,"s":"k","x":0,"y":0},{"p":6,"s":"k","x":2.46,"y":0},{"p":6,"s":"k","x":2.62,"y":0.44},{"p":6,"s":"k","x":2.87,"y":0.27},{"p":6,"s":"k","x":3.12,"y":0},{"p":6,"s":"k","x":3.46,"y":0.27},{"p":6,"s":"k","x":4.12,"y":0},{"p":6,"s":"k","x":4.95,"y":0.1},{"p":6,"s":"k","x":5.78,"y":0.1},{"p":6,"s":"k","x":6.78,"y":0.1},{"p":6,"s":"k","x":7.08,"y":0.44},{"p":6,"s":"k","x":7.28,"y":1.13},{"p":6,"s":"k","x":7.52,"y":2.15},{"p":6,"s":"k","x":7.74,"y":3.52},{"p":6,"s":"k","x":7.94,"y":7.27},{"p":6,"s":"k","x":8.11,"y":10.68},{"p":6,"s":"k","x":8.27,"y":10.85},{"p":6,"s":"k","x":8.44,"y":11.71},{"p":6,"s":"k","x":8.6,"y":13.41},{"p":6,"s":"k","x":8.85,"y":15.46},{"p":6,"s":"k","x":9.1,"y":16.48},{"p":6,"s":"k","x":9.35,"y":17.34},{"p":6,"s":"k","x":9.52,"y":17.51},{"p":6,"s":"k","x":9.77,"y":18.53},{"p":6,"s":"k","x":10.02,"y":19.56},{"p":6,"s":"k","x":10.23,"y":18.7},{"p":6,"s":"k","x":10.43,"y":19.9},{"p":6,"s":"k","x":10.6,"y":21.09},{"p":6,"s":"k","x":10.76,"y":19.22},{"p":6,"s":"k","x":10.93,"y":15.29},{"p":6,"s":"k","x":11.1,"y":14.1},{"p":6,"s":"k","x":11.26,"y":13.41},{"p":6,"s":"k","x":11.43,"y":11.37},{"p":6,"s":"k","x":11.6,"y":6.59},{"p":6,"s":"k","x":11.79,"y":5.05},{"p":6,"s":"k","x":11.93,"y":8.29},{"p":6,"s":"k","x":12.09,"y":11.71},{"p":6,"s":"k","x":12.26,"y":14.27},{"p":6,"s":"k","x":12.43,"y":14.61},{"p":6,"s":"k","x":12.59,"y":11.37},{"p":6,"s":"k","x":12.76,"y":12.05},{"p":6,"s":"k","x":12.84,"y":8.63},{"p":6,"s":"k","x":13.01,"y":6.42},{"p":6,"s":"k","x":13.17,"y":6.25},{"p":6,"s":"k","x":13.31,"y":2.83},{"p":6,"s":"k","x":13.42,"y":0.78},{"p":6,"s":"k","x":13.59,"y":0.1},{"p":6,"s":"k","x":15.25,"y":0}
]
},
"concat":[
{"width":321,"height":245,"title":"Bridle\u00a0\u00a0H01\u00a0\u00a06","resolve":{"axis":{"y":"independent"}},
"layer":[
{"encoding":{"x":{"field":"x","type":"quantitative","scale":{"domain":[0,10],"nice":false},"axis":{"values":[0,10],"title":null}},"y":{"field":"y","type":"quantitative","scale":{"domain":[0,8],"nice":false},"axis":{"values":[0,2,4,6,8],"title":null}}},
"layer":[
{"data":{"name":"d"},"transform":[{"filter":"datum.p==1 && datum.s=='b'"}],"mark":{"type":"line","color":"#0000ff"},"encoding":{}},
{"data":{"name":"d"},"transform":[{"filter":"datum.p==1 && datum.s=='m'"}],"mark":{"type":"line","color":"#ff00ff"},"encoding":{}},
{"data":{"name":"d"},"transform":[{"filter":"datum.p==1 && datum.s=='r'"}],"mark":{"type":"line","color":"#ff0000"},"encoding":{}},
{"data":{"name":"d"},"transform":[{"filter":"datum.p==1 && datum.s=='k'"}],"mark":{"type":"line","color":"#000000"},"encoding":{}},
{"data":{"name":"ev"},"transform":[{"filter":"datum.p==1"}],"mark":{"type":"rule","color":"#000000","strokeWidth":3,"strokeDash":[15,13]},"encoding":{"y2":{"field":"y2"}}},
{"data":{"name":"dm"},"transform":[{"filter":"datum.p==1"}],"mark":{"type":"point","shape":"M-0.72,0L0,-1L0.72,0L0,1Z","size":730,"filled":true,"color":"#000000","opacity":1}}
]},
{"data":{"name":"dm"},"transform":[{"filter":"datum.p==1"}],"mark":{"type":"point","opacity":0},"encoding":{"y":{"field":"y","type":"quantitative","scale":{"domain":[0,8],"nice":false},"axis":{"orient":"right","values":[0,2,4,6,8],"labels":false,"title":null}}}}
]},
{"width":321,"height":245,"title":"Halter\u00a0\u00a0H05\u00a0\u00a05","resolve":{"axis":{"y":"independent"}},
"layer":[
{"encoding":{"x":{"field":"x","type":"quantitative","scale":{"domain":[0,10],"nice":false},"axis":{"values":[0,10],"title":null}},"y":{"field":"y","type":"quantitative","scale":{"domain":[0,8],"nice":false},"axis":{"values":[0,2,4,6,8],"title":null}}},
"layer":[
{"data":{"name":"d"},"transform":[{"filter":"datum.p==2 && datum.s=='b'"}],"mark":{"type":"line","color":"#0000ff"},"encoding":{}},
{"data":{"name":"d"},"transform":[{"filter":"datum.p==2 && datum.s=='m'"}],"mark":{"type":"line","color":"#ff00ff"},"encoding":{}},
{"data":{"name":"d"},"transform":[{"filter":"datum.p==2 && datum.s=='r'"}],"mark":{"type":"line","color":"#ff0000"},"encoding":{}},
{"data":{"name":"d"},"transform":[{"filter":"datum.p==2 && datum.s=='k'"}],"mark":{"type":"line","color":"#000000"},"encoding":{}},
{"data":{"name":"ev"},"transform":[{"filter":"datum.p==2"}],"mark":{"type":"rule","color":"#000000","strokeWidth":3,"strokeDash":[15,13]},"encoding":{"y2":{"field":"y2"}}},
{"data":{"name":"dm"},"transform":[{"filter":"datum.p==2"}],"mark":{"type":"point","shape":"M-0.72,0L0,-1L0.72,0L0,1Z","size":730,"filled":true,"color":"#000000","opacity":1}}
]},
{"data":{"name":"dm"},"transform":[{"filter":"datum.p==2"}],"mark":{"type":"point","opacity":0},"encoding":{"y":{"field":"y","type":"quantitative","scale":{"domain":[0,8],"nice":false},"axis":{"orient":"right","values":[0,2,4,6,8],"labels":false,"title":null}}}}
]},
{"width":321,"height":245,"title":"Bridle\u00a0\u00a0H11\u00a0\u00a05","resolve":{"axis":{"y":"independent"}},
"layer":[
{"encoding":{"x":{"field":"x","type":"quantitative","scale":{"domain":[0,10],"nice":false},"axis":{"values":[0,10],"title":null}},"y":{"field":"y","type":"quantitative","scale":{"domain":[0,8],"nice":false},"axis":{"values":[0,2,4,6,8],"title":"Newton","titleX":-37,"titleY":127,"titleBaseline":"alphabetic"}}},
"layer":[
{"data":{"name":"d"},"transform":[{"filter":"datum.p==3 && datum.s=='b'"}],"mark":{"type":"line","color":"#0000ff"},"encoding":{}},
{"data":{"name":"d"},"transform":[{"filter":"datum.p==3 && datum.s=='m'"}],"mark":{"type":"line","color":"#ff00ff"},"encoding":{}},
{"data":{"name":"d"},"transform":[{"filter":"datum.p==3 && datum.s=='r'"}],"mark":{"type":"line","color":"#ff0000"},"encoding":{}},
{"data":{"name":"d"},"transform":[{"filter":"datum.p==3 && datum.s=='k'"}],"mark":{"type":"line","color":"#000000"},"encoding":{}},
{"data":{"name":"ev"},"transform":[{"filter":"datum.p==3"}],"mark":{"type":"rule","color":"#000000","strokeWidth":3,"strokeDash":[15,13]},"encoding":{"y2":{"field":"y2"}}},
{"data":{"name":"dm"},"transform":[{"filter":"datum.p==3"}],"mark":{"type":"point","shape":"M-0.72,0L0,-1L0.72,0L0,1Z","size":730,"filled":true,"color":"#000000","opacity":1}}
]},
{"data":{"name":"dm"},"transform":[{"filter":"datum.p==3"}],"mark":{"type":"point","opacity":0},"encoding":{"y":{"field":"y","type":"quantitative","scale":{"domain":[0,8],"nice":false},"axis":{"orient":"right","values":[0,2,4,6,8],"labels":false,"title":null}}}}
]},
{"width":321,"height":245,"title":"Bridle\u00a0\u00a0H17\u00a0\u00a08","resolve":{"axis":{"y":"independent"}},
"layer":[
{"encoding":{"x":{"field":"x","type":"quantitative","scale":{"domain":[0,10],"nice":false},"axis":{"values":[0,10],"title":null}},"y":{"field":"y","type":"quantitative","scale":{"domain":[0,8],"nice":false},"axis":{"values":[0,2,4,6,8],"title":null}}},
"layer":[
{"data":{"name":"d"},"transform":[{"filter":"datum.p==4 && datum.s=='b'"}],"mark":{"type":"line","color":"#0000ff"},"encoding":{}},
{"data":{"name":"d"},"transform":[{"filter":"datum.p==4 && datum.s=='m'"}],"mark":{"type":"line","color":"#ff00ff"},"encoding":{}},
{"data":{"name":"d"},"transform":[{"filter":"datum.p==4 && datum.s=='r'"}],"mark":{"type":"line","color":"#ff0000"},"encoding":{}},
{"data":{"name":"d"},"transform":[{"filter":"datum.p==4 && datum.s=='k'"}],"mark":{"type":"line","color":"#000000"},"encoding":{}},
{"data":{"name":"ev"},"transform":[{"filter":"datum.p==4"}],"mark":{"type":"rule","color":"#000000","strokeWidth":3,"strokeDash":[15,13]},"encoding":{"y2":{"field":"y2"}}},
{"data":{"name":"dm"},"transform":[{"filter":"datum.p==4"}],"mark":{"type":"point","shape":"M-0.72,0L0,-1L0.72,0L0,1Z","size":730,"filled":true,"color":"#000000","opacity":1}}
]},
{"data":{"name":"dm"},"transform":[{"filter":"datum.p==4"}],"mark":{"type":"point","opacity":0},"encoding":{"y":{"field":"y","type":"quantitative","scale":{"domain":[0,8],"nice":false},"axis":{"orient":"right","values":[0,2,4,6,8],"labels":false,"title":null}}}}
]},
{"width":321,"height":245,"title":"Bridle\u00a0\u00a0H14\u00a0\u00a05","resolve":{"axis":{"y":"independent"}},
"layer":[
{"encoding":{"x":{"field":"x","type":"quantitative","scale":{"domain":[0,10],"nice":false},"axis":{"values":[0,10],"title":null}},"y":{"field":"y","type":"quantitative","scale":{"domain":[0,10],"nice":false},"axis":{"values":[0,2,4,6,8,10],"title":null}}},
"layer":[
{"data":{"name":"d"},"transform":[{"filter":"datum.p==5 && datum.s=='b'"}],"mark":{"type":"line","color":"#0000ff"},"encoding":{}},
{"data":{"name":"d"},"transform":[{"filter":"datum.p==5 && datum.s=='m'"}],"mark":{"type":"line","color":"#ff00ff"},"encoding":{}},
{"data":{"name":"d"},"transform":[{"filter":"datum.p==5 && datum.s=='r'"}],"mark":{"type":"line","color":"#ff0000"},"encoding":{}},
{"data":{"name":"d"},"transform":[{"filter":"datum.p==5 && datum.s=='k'"}],"mark":{"type":"line","color":"#000000"},"encoding":{}},
{"data":{"name":"ev"},"transform":[{"filter":"datum.p==5"}],"mark":{"type":"rule","color":"#000000","strokeWidth":3,"strokeDash":[15,13]},"encoding":{"y2":{"field":"y2"}}},
{"data":{"name":"dm"},"transform":[{"filter":"datum.p==5"}],"mark":{"type":"point","shape":"M-0.72,0L0,-1L0.72,0L0,1Z","size":730,"filled":true,"color":"#000000","opacity":1}}
]},
{"data":{"name":"dm"},"transform":[{"filter":"datum.p==5"}],"mark":{"type":"point","opacity":0},"encoding":{"y":{"field":"y","type":"quantitative","scale":{"domain":[0,10],"nice":false},"axis":{"orient":"right","values":[0,2,4,6,8,10],"labels":false,"title":null}}}}
]},
{"width":321,"height":245,"title":"Halter\u00a0\u00a0H09\u00a0\u00a05","resolve":{"axis":{"y":"independent"}},
"layer":[
{"encoding":{"x":{"field":"x","type":"quantitative","scale":{"domain":[0,16],"nice":false},"axis":{"values":[0,16],"title":null}},"y":{"field":"y","type":"quantitative","scale":{"domain":[0,25],"nice":false},"axis":{"values":[0,5,10,15,20,25],"title":null}}},
"layer":[
{"data":{"name":"d"},"transform":[{"filter":"datum.p==6 && datum.s=='b'"}],"mark":{"type":"line","color":"#0000ff"},"encoding":{}},
{"data":{"name":"d"},"transform":[{"filter":"datum.p==6 && datum.s=='m'"}],"mark":{"type":"line","color":"#ff00ff"},"encoding":{}},
{"data":{"name":"d"},"transform":[{"filter":"datum.p==6 && datum.s=='r'"}],"mark":{"type":"line","color":"#ff0000"},"encoding":{}},
{"data":{"name":"d"},"transform":[{"filter":"datum.p==6 && datum.s=='k'"}],"mark":{"type":"line","color":"#000000"},"encoding":{}},
{"data":{"name":"ev"},"transform":[{"filter":"datum.p==6"}],"mark":{"type":"rule","color":"#000000","strokeWidth":3,"strokeDash":[15,13]},"encoding":{"y2":{"field":"y2"}}},
{"data":{"name":"dm"},"transform":[{"filter":"datum.p==6"}],"mark":{"type":"point","shape":"M-0.72,0L0,-1L0.72,0L0,1Z","size":730,"filled":true,"color":"#000000","opacity":1}}
]},
{"data":{"name":"dm"},"transform":[{"filter":"datum.p==6"}],"mark":{"type":"point","opacity":0},"encoding":{"y":{"field":"y","type":"quantitative","scale":{"domain":[0,25],"nice":false},"axis":{"orient":"right","values":[0,5,10,15,20,25],"labels":false,"title":null}}}}
]}
]
}
